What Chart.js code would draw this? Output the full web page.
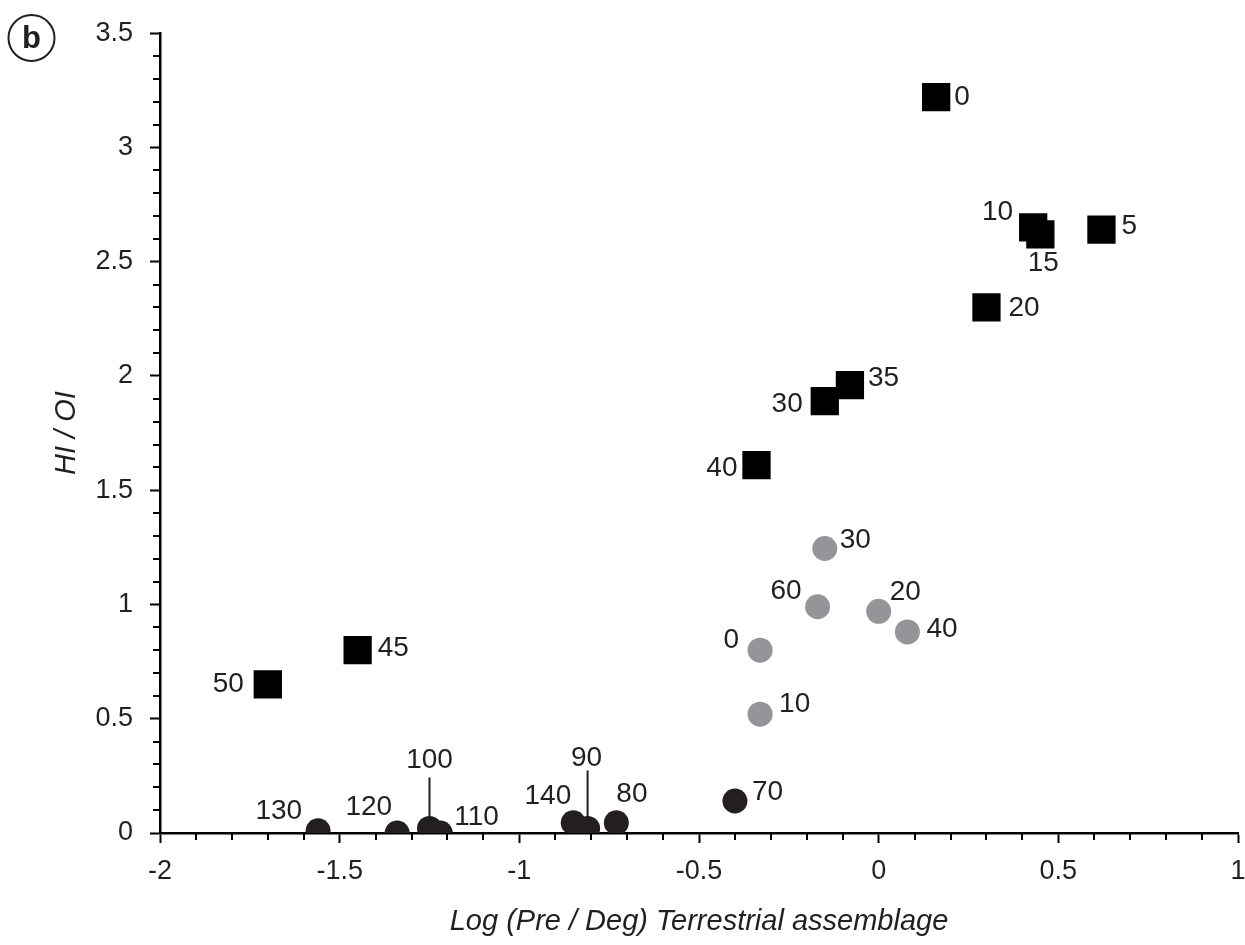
<!DOCTYPE html>
<html>
<head>
<meta charset="utf-8">
<script src="https://cdn.jsdelivr.net/npm/chart.js@4.4.1/dist/chart.umd.min.js"></script>
<style>
  html, body { margin: 0; padding: 0; background: #fff; overflow: hidden; }
  #wrap { width: 1245px; height: 945px; position: relative; }
  canvas { display: block; }
</style>
</head>
<body>
<div id="wrap"><canvas id="myChart"></canvas></div>
<script>
// squares
var squareX = [0.16, 0.62, 0.43, 0.45, 0.30, -0.15, -0.08, -0.34, -1.45, -1.70];
var squareY = [3.22, 2.64, 2.65, 2.62, 2.30, 1.89, 1.96, 1.61, 0.80, 0.65];
var squareLabels = ["0", "5", "10", "15", "20", "30", "35", "40", "45", "50"];

// grey circles
var greyX = [-0.33, -0.33, 0.00, -0.15, 0.08, -0.17];
var greyY = [0.80, 0.52, 0.97, 1.245, 0.88, 0.99];
var greyLabels = ["0", "10", "20", "30", "40", "60"];

// dark circles
var darkX = [-0.85, -0.81, -0.73, -0.40, -1.56, -1.34, -1.25, -1.22];
var darkY = [0.045, 0.02, 0.045, 0.14, 0.01, 0.0, 0.02, 0.0];
var darkLabels = ["140", "90", "80", "70", "130", "120", "100", "110"];

var xMin = -2, xMax = 1, yMin = 0, yMax = 3.5, minorStep = 0.1;

// label placement relative to the point: dx, dy (px), align, leader top (px)
var squareOffsets = {
	"0": [18, 0, "left"], "5": [20, -3, "left"], "10": [-20, -15, "right"],
	"15": [3, 29, "center"], "20": [22, 1, "left"], "30": [-22, 3, "right"],
	"35": [18, -7, "left"], "40": [-19, 3, "right"], "45": [20, -2, "left"],
	"50": [-24, 0, "right"]
};
var greyOffsets = {
	"0": [-21, -10, "right"], "10": [19, -10, "left"], "20": [11, -19, "left"],
	"30": [15, -8, "left"], "40": [19, -3, "left"], "60": [-16, -15, "right"]
};
var darkOffsets = {
	"70": [17, -9, "left"], "80": [0, -28, "left"], "90": [-1, -70, "center", -58],
	"100": [0, -68, "center", -51], "110": [14, -16, "left"], "120": [-5, -26, "right"],
	"130": [-16, -19, "right"], "140": [-2, -26, "right"]
};

var FONT = "'Liberation Sans', Arial, sans-serif";

function toPoints(xs, ys) {
	var pts = [];
	for (var i = 0; i < xs.length; i++) pts.push({x: xs[i], y: ys[i]});
	return pts;
}

function isMajor(v) {
	return Math.abs(v * 2 - Math.round(v * 2)) < 1e-6;
}

// point labels and leader lines
var labelPlugin = {
	id: "pointLabels",
	afterDatasetsDraw: function(chart) {
		var ctx = chart.ctx;
		ctx.save();
		ctx.font = "28px " + FONT;
		ctx.fillStyle = "#231f20";
		ctx.strokeStyle = "#231f20";
		ctx.lineWidth = 2;
		ctx.textBaseline = "middle";
		chart.data.datasets.forEach(function(ds, di) {
			var meta = chart.getDatasetMeta(di);
			meta.data.forEach(function(el, i) {
				var txt = ds.pointLabels[i];
				var off = ds.labelOffsets[txt];
				ctx.textAlign = off[2];
				ctx.fillText(txt, el.x + off[0], el.y + off[1]);
				if (off[3] !== undefined) {
					ctx.beginPath();
					ctx.moveTo(el.x, el.y + off[3]);
					ctx.lineTo(el.x, el.y - 6);
					ctx.stroke();
				}
			});
		});
		ctx.restore();
	}
};

// short minor ticks + panel letter
var extrasPlugin = {
	id: "extras",
	afterDraw: function(chart) {
		var ctx = chart.ctx;
		var xs = chart.scales.x, ys = chart.scales.y;
		var area = chart.chartArea;
		ctx.save();
		ctx.strokeStyle = "#000";
		ctx.lineWidth = 2;
		ctx.beginPath();
		xs.ticks.forEach(function(t) {
			if (isMajor(t.value)) return;
			var px = Math.round(xs.getPixelForValue(t.value));
			ctx.moveTo(px, area.bottom);
			ctx.lineTo(px, area.bottom + 7);
		});
		ys.ticks.forEach(function(t) {
			if (isMajor(t.value)) return;
			var py = Math.round(ys.getPixelForValue(t.value));
			ctx.moveTo(area.left, py);
			ctx.lineTo(area.left - 7, py);
		});
		ctx.stroke();

		// panel letter
		ctx.lineWidth = 2;
		ctx.strokeStyle = "#231f20";
		ctx.beginPath();
		ctx.arc(31.5, 38, 23, 0, Math.PI * 2);
		ctx.stroke();
		ctx.fillStyle = "#231f20";
		ctx.font = "bold 31px " + FONT;
		ctx.textAlign = "center";
		ctx.textBaseline = "middle";
		ctx.fillText("b", 31.5, 39);
		ctx.restore();
	}
};

var ctx = document.getElementById("myChart").getContext("2d");
var chart = new Chart(ctx, {
	type: "scatter",
	data: {
		datasets: [{
			label: "dark",
			data: toPoints(darkX, darkY),
			pointLabels: darkLabels,
			labelOffsets: darkOffsets,
			pointStyle: "circle",
			pointRadius: 12.5,
			pointBorderWidth: 0,
			backgroundColor: "#231f20",
			borderColor: "#231f20"
		}, {
			label: "grey",
			data: toPoints(greyX, greyY),
			pointLabels: greyLabels,
			labelOffsets: greyOffsets,
			pointStyle: "circle",
			pointRadius: 12.5,
			pointBorderWidth: 0,
			backgroundColor: "#939598",
			borderColor: "#939598"
		}, {
			label: "square",
			data: toPoints(squareX, squareY),
			pointLabels: squareLabels,
			labelOffsets: squareOffsets,
			pointStyle: "rect",
			pointRadius: 20,
			pointBorderWidth: 0,
			backgroundColor: "#000000",
			borderColor: "#000000"
		}]
	},
	options: {
		responsive: true,
		maintainAspectRatio: false,
		animation: false,
		layout: {autoPadding: false, padding: {top: 33, right: 7, left: 0, bottom: 0}},
		plugins: {
			legend: {display: false},
			tooltip: {enabled: false}
		},
		scales: {
			x: {
				type: "linear",
				min: xMin,
				max: xMax,
				afterFit: function(scale) {
					scale.height = 112;
					scale.paddingLeft = 0;
					scale.paddingRight = 0;
				},
				border: {display: true, color: "#000", width: 2.5},
				grid: {
					drawOnChartArea: false,
					drawTicks: true,
					tickLength: 10,
					tickWidth: 2,
					tickColor: function(c) { return isMajor(c.tick.value) ? "#000" : "rgba(0,0,0,0)"; }
				},
				ticks: {
					stepSize: minorStep,
					autoSkip: false,
					maxRotation: 0,
					padding: 12,
					color: "#231f20",
					font: {family: FONT, size: 27},
					callback: function(v) { return isMajor(v) ? String(Math.round(v * 10) / 10) : ""; }
				},
				title: {
					display: true,
					text: "Log (Pre / Deg) Terrestrial assemblage",
					color: "#231f20",
					font: {family: FONT, size: 29, style: "italic"},
					padding: {top: 0, bottom: 6}
				}
			},
			y: {
				type: "linear",
				min: yMin,
				max: yMax,
				afterFit: function(scale) { scale.width = 160; },
				border: {display: true, color: "#000", width: 2.5},
				grid: {
					drawOnChartArea: false,
					drawTicks: true,
					tickLength: 10,
					tickWidth: 2,
					tickColor: function(c) { return isMajor(c.tick.value) ? "#000" : "rgba(0,0,0,0)"; }
				},
				ticks: {
					stepSize: minorStep,
					autoSkip: false,
					padding: 17,
					color: "#231f20",
					font: {family: FONT, size: 27},
					callback: function(v) { return isMajor(v) ? String(Math.round(v * 10) / 10) : ""; }
				},
				title: {
					display: true,
					text: "HI / OI",
					color: "#231f20",
					font: {family: FONT, size: 29, style: "italic"},
					padding: {top: 50, bottom: 0}
				}
			}
		}
	},
	plugins: [labelPlugin, extrasPlugin]
});
</script>
</body>
</html>
